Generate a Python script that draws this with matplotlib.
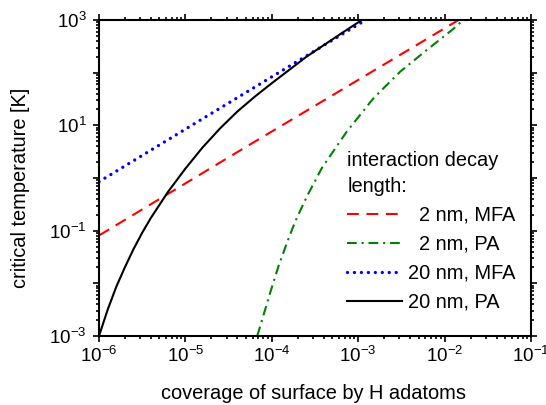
import numpy as np
import matplotlib
matplotlib.use("Agg")
import matplotlib.pyplot as plt
from matplotlib.ticker import LogLocator, FuncFormatter, NullFormatter

plt.rcParams['font.family'] = ['Liberation Sans', 'DejaVu Sans']
plt.rcParams['mathtext.fontset'] = 'custom'
plt.rcParams['mathtext.rm'] = 'Liberation Sans'
plt.rcParams['mathtext.it'] = 'Liberation Sans:italic'
plt.rcParams['mathtext.bf'] = 'Liberation Sans:bold'
plt.rcParams['lines.scale_dashes'] = False

# values (coverage, critical temperature in K)
cov_2nm_mfa = [1.0e-6, 4.9e-5, 1.45e-2]
tc_2nm_mfa = [0.081, 3.8, 1000]

cov_2nm_pa = [6.79e-5, 9.53e-5, 1.19e-4, 1.49e-4, 1.86e-4, 2.54e-4, 3.78e-4,
              7.36e-4, 1.50e-3, 3.05e-3, 6.21e-3, 1.26e-2, 1.64e-2]
tc_2nm_pa = [1.0e-3, 6.46e-3, 0.0207, 0.0575, 0.148, 0.442, 1.53,
             7.57, 32.6, 104, 269, 676, 1000]

cov_20nm_mfa = [1.0e-6, 1.29e-5, 1.22e-3]
tc_20nm_mfa = [0.85, 10.9, 1000]

cov_20nm_pa = [1.0e-6, 1.26e-6, 1.58e-6, 2.0e-6, 2.51e-6, 3.16e-6, 3.98e-6,
               6.31e-6, 1.0e-5, 1.58e-5, 2.51e-5, 3.98e-5, 6.31e-5, 1.0e-4,
               2.51e-4, 6.31e-4, 1.2e-3]
tc_20nm_pa = [1.0e-3, 3.16e-3, 8.5e-3, 0.0204, 0.0447, 0.0912, 0.174,
              0.55, 1.51, 3.8, 8.7, 18.2, 34.7, 63.1,
              200, 550, 1096]

labels = ['  2 nm, MFA', '  2 nm, PA', '20 nm, MFA', '20 nm, PA']

fig = plt.figure(figsize=(5.46, 4.05), dpi=100)
ax = fig.add_axes([99/546, 69/405, 432/546, 316/405])

ax.plot(cov_2nm_mfa, tc_2nm_mfa, color='#ff0000', lw=1.5, dashes=(8.5, 5.5), label=labels[0])
ax.plot(cov_2nm_pa, tc_2nm_pa, color='#008000', lw=1.5, dashes=(7, 3.5, 1.5, 3.5), label=labels[1])
ax.plot(cov_20nm_mfa, tc_20nm_mfa, color='#0000ff', lw=2.4, dashes=(0.01, 5.0),
        dash_capstyle='round', label=labels[2])
ax.plot(cov_20nm_pa, tc_20nm_pa, color='black', lw=1.5, label=labels[3])

ax.set_xscale('log')
ax.set_yscale('log')
ax.set_xlim(1e-6, 1e-1)
ax.set_ylim(1e-3, 1e3)

ax.xaxis.set_major_locator(LogLocator(base=10, numticks=20))
ax.xaxis.set_minor_locator(LogLocator(base=10, subs=np.arange(2, 10), numticks=100))
ax.yaxis.set_major_locator(LogLocator(base=10, numticks=20))
ax.yaxis.set_minor_locator(LogLocator(base=10, subs=np.arange(2, 10), numticks=100))


def xfmt(v, pos):
    e = int(round(np.log10(v)))
    return r'$\mathregular{10^{%d}}$' % e


def yfmt(v, pos):
    e = int(round(np.log10(v)))
    if e % 2 == 0:
        return ''
    return r'$\mathregular{10^{%d}}$' % e


ax.xaxis.set_major_formatter(FuncFormatter(xfmt))
ax.yaxis.set_major_formatter(FuncFormatter(yfmt))
ax.xaxis.set_minor_formatter(NullFormatter())
ax.yaxis.set_minor_formatter(NullFormatter())

for s in ax.spines.values():
    s.set_linewidth(1.5)
ax.tick_params(which='both', direction='out', top=True, right=True, width=1.2)
ax.tick_params(which='major', length=4, labelsize=13.5)
ax.tick_params(which='minor', length=2.2)
ax.tick_params(axis='x', which='major', pad=3)
ax.tick_params(axis='y', which='major', pad=5)

ax.set_xlabel('coverage of surface by H adatoms', fontsize=14.4)
ax.set_ylabel('critical temperature [K]', fontsize=14.4)
ax.xaxis.set_label_coords(0.497, -0.152)
ax.yaxis.set_label_coords(-0.16, 0.468)

leg = ax.legend(loc='upper left', bbox_to_anchor=(0.575, 0.585), frameon=False,
                fontsize=14.4, title='interaction decay\nlength:', title_fontsize=14.4,
                alignment='left', handlelength=2.75, handletextpad=0.3,
                labelspacing=0.5, borderpad=0, borderaxespad=0)
leg.get_title().set_linespacing(1.45)

fig.savefig('out.png', dpi=100)
